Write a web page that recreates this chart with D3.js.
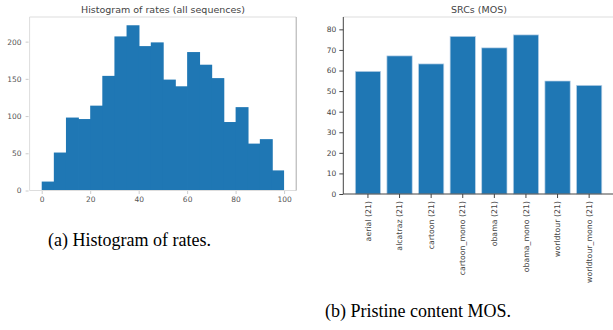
<!DOCTYPE html>
<html><head><meta charset="utf-8">
<script src="https://cdn.jsdelivr.net/npm/d3@7/dist/d3.min.js"></script>
<style>body{margin:0;background:#fff}svg{display:block}</style>
</head><body>
<script>
// Histogram data
const binStarts = [0,5,10,15,20,25,30,35,40,45,50,55,60,65,70,75,80,85,90,95];
const binCounts = [12,51,98,96,114,154,207,222,194,199,149,140,186,169,151,92,112,63,69,27];
const histXTicks = [0,20,40,60,80,100];
const histYTicks = [0,50,100,150,200];
// Bar chart data
const srcNames = ["aerial (21)","alcatraz (21)","cartoon (21)","cartoon_mono (21)","obama (21)","obama_mono (21)","worldtour (21)","worldtour_mono (21)"];
const srcMOS = [59.6,67.1,63.2,76.6,71.0,77.3,54.9,52.8];
const mosYTicks = [0,10,20,30,40,50,60,70,80];

const W=613,H=330;
const svg=d3.select("body").append("svg").attr("width",W).attr("height",H);
const blue="#1f77b4";
const tickFont="DejaVu Sans";

// ---------- Left: histogram ----------
const L={x0:29.6,x1:296.2,y0:17,y1:190.5};
const hx=d3.scaleLinear().domain([-5,105]).range([L.x0,L.x1]);
const hy=d3.scaleLinear().domain([0,233.1]).range([L.y1,L.y0]);
const gL=svg.append("g");
gL.selectAll("rect.bin").data(binStarts).join("rect")
  .attr("x",d=>hx(d)).attr("width",(d,i)=>hx(d+5)-hx(d)+(i<binStarts.length-1?0.8:0))
  .attr("y",(d,i)=>hy(binCounts[i])).attr("height",(d,i)=>hy(0)-hy(binCounts[i]))
  .attr("fill",blue);
// spines
gL.append("line").attr("x1",L.x0).attr("x2",L.x0).attr("y1",L.y0).attr("y2",L.y1).attr("stroke","#ddd").attr("stroke-width",1);
gL.append("line").attr("x1",L.x0).attr("x2",L.x1).attr("y1",L.y0).attr("y2",L.y0).attr("stroke","#ddd").attr("stroke-width",1);
gL.append("line").attr("x1",L.x0).attr("x2",L.x1).attr("y1",L.y1).attr("y2",L.y1).attr("stroke","#ddd").attr("stroke-width",1);
gL.append("line").attr("x1",L.x1).attr("x2",L.x1).attr("y1",L.y0).attr("y2",L.y1).attr("stroke","#aaa").attr("stroke-width",1);
// axes
const axHY=d3.axisLeft(hy).tickValues(histYTicks).tickSize(3).tickPadding(4);
const gHY=gL.append("g").attr("transform",`translate(${L.x0-1},0)`).call(axHY);
const axHX=d3.axisBottom(hx).tickValues(histXTicks).tickSize(3).tickPadding(3);
const gHX=gL.append("g").attr("transform",`translate(0,${L.y1+0.5})`).call(axHX);
[gHY,gHX].forEach(g=>{
  g.select(".domain").remove();
  g.selectAll(".tick line").attr("stroke","#ccc");
  g.selectAll(".tick text").attr("fill","#555").attr("font-family",tickFont).attr("font-size",7.5);
});
svg.append("text").attr("x",163).attr("y",13).attr("text-anchor","middle")
  .attr("font-family",tickFont).attr("font-size",9.5).attr("fill","#444")
  .text("Histogram of rates (all sequences)");

// ---------- Right: bar chart ----------
const R={x0:343.3,x1:613.8,y0:17,y1:194};
const bx=d3.scaleBand().domain(srcNames).range([R.x0,R.x1]).paddingInner(0.2).paddingOuter(0.38);
const by=d3.scaleLinear().domain([0,86]).range([R.y1,R.y0]);
const gR=svg.append("g");
gR.selectAll("rect.bar").data(srcNames).join("rect")
  .attr("x",d=>bx(d)).attr("width",bx.bandwidth())
  .attr("y",(d,i)=>by(srcMOS[i])).attr("height",(d,i)=>by(0)-by(srcMOS[i]))
  .attr("fill",blue).attr("stroke","#bcd3e8").attr("stroke-width",0.7);
gR.append("line").attr("x1",R.x0).attr("x2",R.x1).attr("y1",R.y0).attr("y2",R.y0).attr("stroke","#ddd");
const axBY=d3.axisLeft(by).tickValues(mosYTicks).tickSize(4).tickPadding(3);
const gBY=gR.append("g").attr("transform",`translate(${R.x0},0)`).call(axBY);
gBY.select(".domain").attr("stroke","#444").attr("d",`M0,${R.y0}V${R.y1}`);
const axBX=d3.axisBottom(bx).tickSize(4).tickPadding(3);
const gBX=gR.append("g").attr("transform",`translate(0,${R.y1})`).call(axBX);
gBX.select(".domain").attr("stroke","#444").attr("d",`M${R.x0},0H${R.x1}`);
[gBY,gBX].forEach(g=>{
  g.selectAll(".tick line").attr("stroke","#444");
  g.selectAll(".tick text").attr("fill","#444").attr("font-family",tickFont).attr("font-size",7.5);
});
gBX.selectAll(".tick text").attr("transform","rotate(-90)").attr("text-anchor","end")
  .attr("x",-7).attr("y",0).attr("dy","0.35em").attr("font-size",7.8);
svg.append("text").attr("x",479).attr("y",13).attr("text-anchor","middle")
  .attr("font-family",tickFont).attr("font-size",9.5).attr("fill","#444")
  .text("SRCs (MOS)");

// ---------- Captions ----------
svg.append("text").attr("x",48).attr("y",245.5).attr("font-family","Liberation Serif").attr("font-size",18).attr("fill","#000")
  .text("(a) Histogram of rates.");
svg.append("text").attr("x",325).attr("y",317).attr("font-family","Liberation Serif").attr("font-size",18).attr("fill","#000")
  .text("(b) Pristine content MOS.");
</script>
</body></html>
